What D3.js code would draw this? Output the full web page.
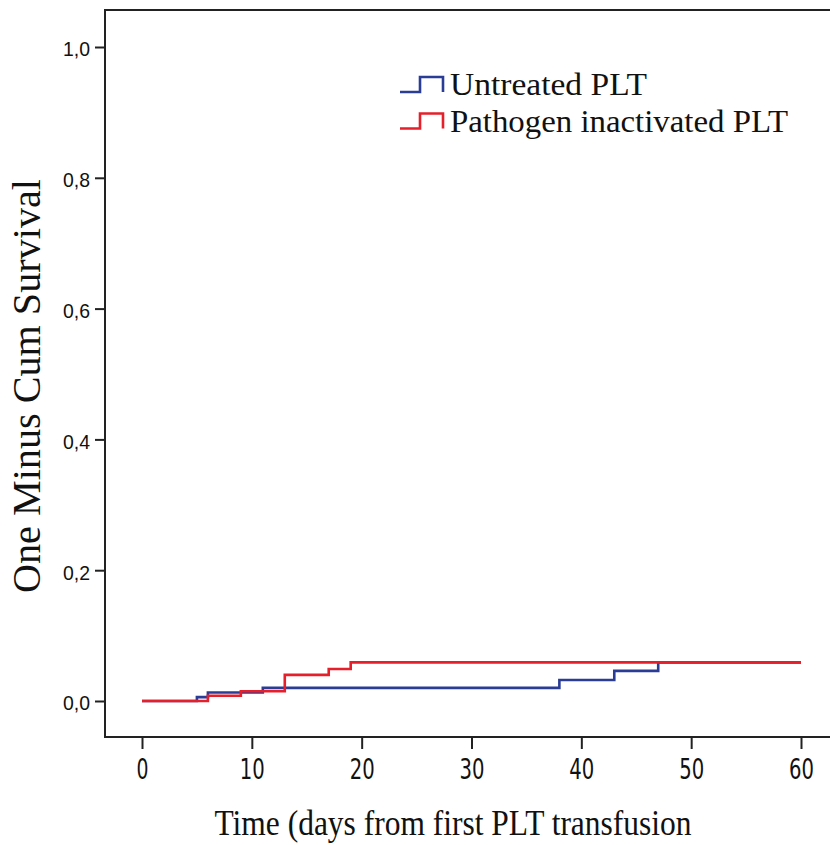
<!DOCTYPE html>
<html>
<head>
<meta charset="utf-8">
<script src="https://cdn.jsdelivr.net/npm/d3@7"></script>
<style>
  body { margin: 0; background: #fff; }
  svg { display: block; }
</style>
</head>
<body>
<svg id="chart" width="830" height="845"></svg>
<script>
// step data (time in days, one minus cum survival)
var untreatedTimes = [0, 5, 6, 11, 38, 43, 47, 60];
var untreatedVals  = [0, 0.006, 0.013, 0.020, 0.032, 0.046, 0.059, 0.059];
var inactTimes = [0, 6, 9, 13, 17, 19, 60];
var inactVals  = [0, 0.008, 0.015, 0.040, 0.049, 0.059, 0.059];

var xTicks = [0, 10, 20, 30, 40, 50, 60];
var yTicks = [0, 0.2, 0.4, 0.6, 0.8, 1.0];
var seriesNames = ["Untreated PLT", "Pathogen inactivated PLT"];
var seriesColors = ["#2b3c96", "#e5202b"];

var svg = d3.select("#chart");
var frame = { left: 105, top: 10, right: 830, bottom: 737 };

var x = d3.scaleLinear().domain([0, 60]).range([142, 801]);
var y = d3.scaleLinear().domain([0, 1]).range([701, 47]);

// frame (left, top, bottom - no right edge visible)
svg.append("path")
    .attr("d", "M" + frame.right + "," + frame.top + "H" + frame.left + "V" + frame.bottom + "H" + frame.right)
    .attr("fill", "none")
    .attr("stroke", "#222")
    .attr("stroke-width", 2);

// x axis
var xAxis = svg.append("g")
    .attr("transform", "translate(0," + frame.bottom + ")")
    .call(d3.axisBottom(x).tickValues(xTicks).tickSize(12).tickPadding(10).tickFormat(d3.format("d")));
xAxis.select(".domain").remove();
xAxis.selectAll("line").attr("stroke", "#222").attr("stroke-width", 2);
xAxis.selectAll("text")
    .attr("font-family", "'DejaVu Sans', Verdana, sans-serif")
    .attr("font-size", 28)
    .attr("fill", "#111")
    .attr("dy", "0.72em")
    .attr("textLength", function (d) { return d === 0 ? 12 : 25; })
    .attr("lengthAdjust", "spacingAndGlyphs");

// y axis
var yAxis = svg.append("g")
    .attr("transform", "translate(" + frame.left + ",0)")
    .call(d3.axisLeft(y).tickValues(yTicks).tickSize(10).tickPadding(5)
        .tickFormat(function (d) { return d3.format(".1f")(d).replace(".", ","); }));
yAxis.select(".domain").remove();
yAxis.selectAll("line").attr("stroke", "#222").attr("stroke-width", 2);
yAxis.selectAll("text")
    .attr("font-family", "'Liberation Sans', Arial, sans-serif")
    .attr("font-size", 21)
    .attr("fill", "#111")
    .attr("dy", "0.42em")
    .attr("textLength", 27)
    .attr("lengthAdjust", "spacingAndGlyphs");

// step lines
var line = d3.line()
    .x(function (d) { return x(d[0]); })
    .y(function (d) { return y(d[1]); })
    .curve(d3.curveStepAfter);

var series = [
    d3.zip(untreatedTimes, untreatedVals),
    d3.zip(inactTimes, inactVals)
];

svg.selectAll(".km")
    .data(series)
    .enter().append("path")
    .attr("class", "km")
    .attr("d", line)
    .attr("fill", "none")
    .attr("stroke", function (d, i) { return seriesColors[i]; })
    .attr("stroke-width", 2.6);

// legend
var legend = svg.selectAll(".leg")
    .data(seriesNames)
    .enter().append("g")
    .attr("class", "leg")
    .attr("transform", function (d, i) { return "translate(400," + (92 + i * 36.5) + ")"; });

legend.append("path")
    .attr("d", "M0,0H20V-15H43V0")
    .attr("fill", "none")
    .attr("stroke", function (d, i) { return seriesColors[i]; })
    .attr("stroke-width", 2.6);

legend.append("text")
    .attr("x", 50)
    .attr("y", 3)
    .attr("font-family", "'Liberation Serif', 'Times New Roman', serif")
    .attr("font-size", 31)
    .attr("fill", "#111")
    .attr("textLength", function (d, i) { return i === 0 ? 197 : 338; })
    .attr("lengthAdjust", "spacingAndGlyphs")
    .text(function (d) { return d; });

// axis titles
svg.append("text")
    .attr("x", 453)
    .attr("y", 835)
    .attr("text-anchor", "middle")
    .attr("font-family", "'Liberation Serif', 'Times New Roman', serif")
    .attr("font-size", 35)
    .attr("fill", "#111")
    .attr("textLength", 477)
    .attr("lengthAdjust", "spacingAndGlyphs")
    .text("Time (days from first PLT transfusion");

svg.append("text")
    .attr("transform", "translate(40,386) rotate(-90)")
    .attr("text-anchor", "middle")
    .attr("font-family", "'Liberation Serif', 'Times New Roman', serif")
    .attr("font-size", 41)
    .attr("fill", "#111")
    .attr("textLength", 414)
    .attr("lengthAdjust", "spacingAndGlyphs")
    .text("One Minus Cum Survival");
</script>
</body>
</html>
